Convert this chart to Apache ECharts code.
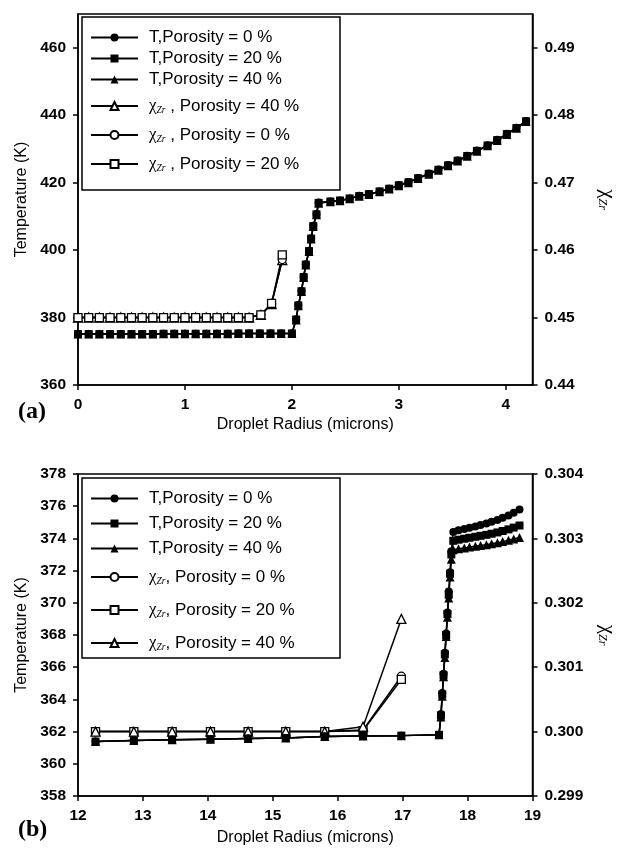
<!DOCTYPE html>
<html>
<head>
<meta charset="utf-8">
<script src="https://cdn.jsdelivr.net/npm/echarts@6/dist/echarts.min.js"></script>
<style>html,body{margin:0;padding:0;background:#fff}#c{width:626px;height:850px}</style>
</head>
<body>
<div id="c"></div>
<script>
// ---------- Panel (a) ----------
const aTx = [0,0.1,0.2,0.3,0.4,0.5,0.6,0.7,0.8,0.9,1.0,1.1,1.2,1.3,1.4,1.5,1.6,1.7,1.8,1.9,2.0,
  2.04,2.06,2.09,2.11,2.13,2.16,2.18,2.2,2.23,2.25,
  2.36,2.45,2.54,2.63,2.72,2.82,2.91,3.0,3.09,3.18,3.28,3.37,3.46,3.55,3.64,3.73,3.83,3.92,4.01,4.1,4.19];
const aT0 = [375.1,375.1,375.1,375.1,375.1,375.1,375.1,375.1,375.2,375.2,375.2,375.2,375.2,375.2,375.2,375.3,375.3,375.3,375.3,375.3,375.3,
  379.5,383.7,387.9,392.1,395.8,399.8,403.5,407.2,410.7,414.1,
  414.4,414.7,415.3,416.1,416.6,417.4,418.2,419.3,420.2,421.4,422.7,423.9,425.2,426.6,428.0,429.5,431.1,432.7,434.5,436.3,438.3];
const aT20 = [375.1,375.1,375.1,375.1,375.1,375.1,375.1,375.1,375.2,375.2,375.2,375.2,375.2,375.2,375.2,375.3,375.3,375.3,375.3,375.3,375.3,
  379.4,383.6,387.8,392.0,395.7,399.7,403.4,407.1,410.6,414.0,
  414.4,414.7,415.3,416.0,416.6,417.4,418.2,419.2,420.1,421.3,422.6,423.8,425.1,426.5,427.9,429.4,431.0,432.6,434.4,436.2,438.2];
const aT40 = [375.1,375.1,375.1,375.1,375.1,375.1,375.1,375.1,375.2,375.2,375.2,375.2,375.2,375.2,375.2,375.3,375.3,375.3,375.3,375.3,375.3,
  379.3,383.5,387.7,391.9,395.6,399.6,403.3,407.0,410.5,413.9,
  414.3,414.6,415.2,416.0,416.5,417.3,418.1,419.1,420.0,421.2,422.5,423.7,425.0,426.4,427.8,429.3,430.9,432.5,434.3,436.1,438.1];
const aChiX = [0,0.1,0.2,0.3,0.4,0.5,0.6,0.7,0.8,0.9,1.0,1.1,1.2,1.3,1.4,1.5,1.6,1.71,1.81,1.91];
const aChi0 = [0.45,0.45,0.45,0.45,0.45,0.45,0.45,0.45,0.45,0.45,0.45,0.45,0.45,0.45,0.45,0.45,0.45,0.4504,0.4520,0.4586];
const aChi20 = [0.45,0.45,0.45,0.45,0.45,0.45,0.45,0.45,0.45,0.45,0.45,0.45,0.45,0.45,0.45,0.45,0.45,0.4504,0.4521,0.4593];
const aChi40 = [0.45,0.45,0.45,0.45,0.45,0.45,0.45,0.45,0.45,0.45,0.45,0.45,0.45,0.45,0.45,0.45,0.45,0.4504,0.4520,0.4585];

// ---------- Panel (b) ----------
const bTx = [12.27,12.86,13.45,14.04,14.62,15.2,15.8,16.39,16.98,
  17.56,17.59,17.61,17.63,17.65,17.67,17.69,17.71,17.73,17.75,
  17.78,17.86,17.95,18.03,18.12,18.2,18.29,18.37,18.46,18.54,18.63,18.71,18.8];
const bT0 = [361.38,361.45,361.5,361.53,361.57,361.6,361.7,361.73,361.75,
  361.8,363.1,364.4,365.6,366.9,368.1,369.4,370.7,371.9,373.2,
  374.4,374.5,374.58,374.66,374.74,374.83,374.92,375.03,375.15,375.28,375.43,375.6,375.8];
const bT20 = [361.38,361.45,361.5,361.53,361.57,361.6,361.7,361.73,361.75,
  361.8,363.0,364.3,365.5,366.8,368.0,369.3,370.5,371.8,373.0,
  373.85,373.92,373.98,374.04,374.1,374.16,374.22,374.29,374.37,374.46,374.56,374.67,374.8];
const bT40 = [361.38,361.45,361.5,361.53,361.57,361.6,361.7,361.73,361.75,
  361.8,362.9,364.2,365.4,366.6,367.9,369.1,370.3,371.6,372.7,
  373.3,373.36,373.41,373.46,373.51,373.56,373.61,373.67,373.73,373.8,373.88,373.96,374.05];
const bChiX = [12.27,12.86,13.45,14.04,14.62,15.2,15.8,16.39,16.98];
const bChi0 = [0.3,0.3,0.3,0.3,0.3,0.3,0.3,0.300025,0.30086];
const bChi20 = [0.3,0.3,0.3,0.3,0.3,0.3,0.3,0.300015,0.30081];
const bChi40 = [0.3,0.3,0.3,0.3,0.3,0.3,0.3,0.300075,0.30175];

// tick settings
const aXTicks = {min:0, max:4.25, interval:1};
const aYTicks = {min:360, max:470, interval:20};
const aY2Ticks = {min:0.44, max:0.495, interval:0.01};
const bXTicks = {min:12, max:19, interval:1};
const bYTicks = {min:358, max:378, interval:2};
const bY2Ticks = {min:0.299, max:0.304, interval:0.001};

const names = {
  T0a:'T,Porosity = 0 %', T20a:'T,Porosity = 20 %', T40a:'T,Porosity = 40 %',
  C40a:'{c|χ}{s|Zr}{n| , Porosity = 40 %}', C0a:'{c|χ}{s|Zr}{n| , Porosity = 0 %}', C20a:'{c|χ}{s|Zr}{n| , Porosity = 20 %}',
  T0b:'T,Porosity = 0 %', T20b:'T,Porosity = 20 %', T40b:'T,Porosity = 40 %',
  C0b:'{c|χ}{s|Zr}{n|, Porosity = 0 %}', C20b:'{c|χ}{s|Zr}{n|, Porosity = 20 %}', C40b:'{c|χ}{s|Zr}{n|, Porosity = 40 %}'
};

const FONT = 'Liberation Sans, Arial, sans-serif';
const LFS = 17;
const rich = {
  c:{fontSize:17, fontFamily:'Liberation Serif', color:'#000', verticalAlign:'middle', lineHeight:18},
  s:{fontSize:9.5, fontStyle:'italic', color:'#000', verticalAlign:'bottom', lineHeight:14, fontFamily:'Liberation Serif'},
  n:{fontSize:LFS, color:'#000', verticalAlign:'middle', lineHeight:18, fontFamily:FONT}
};
const lineCol = '#000';
const axisLineStyle = {lineStyle:{color:'#000', width:1.5}};
const tickStyle = {show:true, length:5, lineStyle:{color:'#000', width:1.5}};
const labelStyle = {color:'#000', fontSize:15.5, fontWeight:'bold', fontFamily:FONT};

function xAx(grid, t) {
  return Object.assign({gridIndex:grid, type:'value',
    axisLine:Object.assign({onZero:false}, axisLineStyle), axisTick:tickStyle, splitLine:{show:false},
    axisLabel:Object.assign({margin:12, showMaxLabel: grid===0 ? false : true}, labelStyle),
    name:'Droplet Radius (microns)', nameLocation:'middle', nameGap:grid===0?32:34,
    nameTextStyle:{fontSize:16, color:'#000', fontFamily:FONT}}, t);
}
function yAx(grid, t, pos, fmt, name, gap, rot) {
  return Object.assign({gridIndex:grid, type:'value', position:pos,
    axisLine:Object.assign({show:true, onZero:false}, axisLineStyle), axisTick:tickStyle, splitLine:{show:false},
    axisLabel:Object.assign({margin:12, showMaxLabel: grid===0 ? false : true, formatter:fmt}, labelStyle),
    name:name, nameLocation:'middle', nameGap:gap, nameRotate:rot,
    nameTextStyle:{fontSize:16, color:'#000', fontFamily:FONT, rich:{
      c:{fontSize:21, fontFamily:'Liberation Serif', color:'#000', verticalAlign:'middle', lineHeight:22},
      s:{fontSize:12, fontStyle:'italic', fontFamily:'Liberation Serif', color:'#000', verticalAlign:'bottom', lineHeight:16}}}}, t);
}

function pairs(xs, ys){ return xs.map((x,i)=>[x, ys[i]]); }
function ser(id, xi, yi, xs, ys, sym, filled, z) {
  return {name:id, type:'line', xAxisIndex:xi, yAxisIndex:yi, data:pairs(xs, ys),
    symbol:sym, symbolSize: sym==='triangle'?9:8, showSymbol:true,
    lineStyle:{color:lineCol, width:1.5},
    itemStyle:{color: filled ? '#000' : '#fff', borderColor:'#000', borderWidth: filled?0:1.3},
    emphasis:{disabled:true}, z:z, animation:false};
}

function legend(data, left, top, gap, lh) {
  return {data:data, orient:'vertical', left:left, top:top, padding:0, itemGap:gap,
    itemWidth:47, itemHeight:10, selectedMode:false,
    formatter: n => names[n],
    textStyle:{fontSize:LFS, color:'#000', fontFamily:FONT, lineHeight:lh, padding:[0,0,0,6], rich:rich}};
}

const option = {
  animation:false,
  backgroundColor:'#fff',
  textStyle:{fontFamily:FONT, color:'#000'},
  grid:[
    {left:78, right:80, top:14, height:371, show:true, borderColor:'#000', borderWidth:1.5},
    {left:78, right:80, top:474, height:322, show:true, borderColor:'#000', borderWidth:1.5}
  ],
  xAxis:[xAx(0, aXTicks), xAx(1, bXTicks)],
  yAxis:[
    yAx(0, aYTicks, 'left', v=>String(v), 'Temperature (K)', 47, 90),
    yAx(0, aY2Ticks, 'right', v=>v.toFixed(2), '{c|χ}{s|Zr}', 64, -90),
    yAx(1, bYTicks, 'left', v=>String(v), 'Temperature (K)', 47, 90),
    yAx(1, bY2Ticks, 'right', v=>v.toFixed(3), '{c|χ}{s|Zr}', 64, -90)
  ],
  legend:[
    legend(['T0a','T20a','T40a'], 90, 29, 4, 17),
    legend(['C40a','C0a','C20a'], 90, 97, 11, 18),
    legend(['T0b','T20b','T40b'], 90, 490, 8, 17),
    legend(['C0b','C20b','C40b'], 90, 568, 15, 18)
  ],
  graphic:[
    {type:'rect', shape:{x:82, y:17, width:258, height:173}, style:{fill:'#fff', stroke:'#000', lineWidth:1.5}, z:-1, zlevel:0},
    {type:'rect', shape:{x:82, y:478, width:258, height:180}, style:{fill:'#fff', stroke:'#000', lineWidth:1.5}, z:-1, zlevel:0},
    {type:'text', left:18, top:400, style:{text:'(a)', font:'bold 24px "Liberation Serif", serif', fill:'#000'}},
    {type:'text', left:18, top:818, style:{text:'(b)', font:'bold 24px "Liberation Serif", serif', fill:'#000'}}
  ],
  series:[
    ser('C40a',0,1,aChiX,aChi40,'triangle',false,2),
    ser('C0a',0,1,aChiX,aChi0,'circle',false,2),
    ser('C20a',0,1,aChiX,aChi20,'rect',false,2),
    ser('T0a',0,0,aTx,aT0,'circle',true,3),
    ser('T20a',0,0,aTx,aT20,'rect',true,3),
    ser('T40a',0,0,aTx,aT40,'triangle',true,3),
    ser('C0b',1,3,bChiX,bChi0,'circle',false,2),
    ser('C20b',1,3,bChiX,bChi20,'rect',false,2),
    ser('C40b',1,3,bChiX,bChi40,'triangle',false,2),
    ser('T0b',1,2,bTx,bT0,'circle',true,3),
    ser('T20b',1,2,bTx,bT20,'rect',true,3),
    ser('T40b',1,2,bTx,bT40,'triangle',true,3)
  ]
};
const chart = echarts.init(document.getElementById('c'), null, {renderer:'canvas'});
chart.setOption(option);
</script>
</body>
</html>
